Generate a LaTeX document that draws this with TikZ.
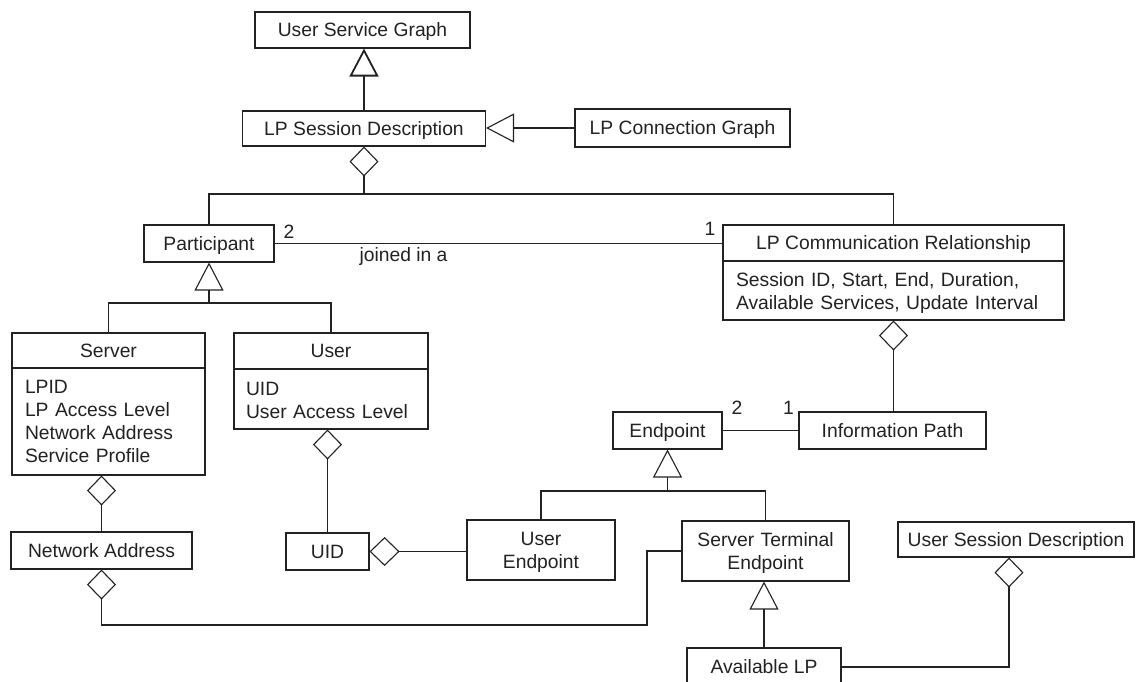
\documentclass[tikz,border=0pt]{standalone}
\usepackage{fontspec}
\setmainfont{Liberation Sans}
\usetikzlibrary{arrows.meta,calc}
\definecolor{ink}{HTML}{222222}
\begin{document}
\begin{tikzpicture}[x=1pt,y=-1pt,color=ink,line width=1.1pt,
  every node/.style={font=\fontsize{19.3}{23.3}\selectfont},
  box/.style={draw=ink,rectangle,inner sep=0pt,text height=13.8pt,text depth=0pt},
  sz/.style 2 args={minimum width=#1pt,minimum height=#2pt},
  twoline/.style={align=center,text width=#1pt,text height=25pt,text depth=35pt},
  gen/.style={-{Triangle[open,width=29pt,length=28pt]}},
  agg/.style={{Diamond[open,width=29pt,length=30pt]}-},
  mult/.style={inner sep=0pt,anchor=base}]
\useasboundingbox (0,0) rectangle (1136,682);
\fill[white] (0,0) rectangle (1136,682);

% ---- classes ----
\node[box,sz={215}{36}] (usg) at (362.5,30) {User Service Graph};
\node[box,sz={243}{35}] (lpsd) at (364,128.5) {LP Session Description};
\node[box,sz={215}{38}] (lpcg) at (682.5,128) {LP Connection Graph};
\node[box,sz={130}{37}] (part) at (209,243.5) {Participant};

\node[box,sz={341}{36}] (lpcrh) at (893.5,243) {LP Communication Relationship};
\node[box,sz={341}{59},align=left,text width=315pt,text height=25pt,text depth=34pt]
  (lpcrb) at (893.5,290.5) {Session ID, Start, End, Duration,\\Available Services, Update Interval};

\node[box,sz={193}{35}] (srvh) at (108.5,350.5) {Server};
\node[box,sz={193}{107},align=left,text width=167pt,text height=25pt,text depth=82pt]
  (srvb) at (108.5,421.5) {LPID\\LP Access Level\\Network Address\\Service Profile};

\node[box,sz={194}{36}] (usrh) at (331,351) {User};
\node[box,sz={194}{60},align=left,text width=170pt,text height=26pt,text depth=34pt]
  (usrb) at (331,399) {UID\\User Access Level};

\node[box,sz={181}{37}] (na) at (101.5,550.5) {Network Address};
\node[box,sz={83}{37}] (uid) at (327.5,551.5) {UID};
\node[box,sz={148}{60},twoline=140] (uep) at (541,550) {User\\Endpoint};
\node[box,sz={109}{37}] (ep) at (667.5,430.5) {Endpoint};
\node[box,sz={187}{37}] (ip) at (892.5,430.5) {Information Path};
\node[box,sz={167}{60},twoline=160] (ste) at (765.5,551) {Server Terminal\\Endpoint};
\node[box,sz={154}{38}] (alp) at (764,667) {Available LP};
\node[box,sz={236}{35}] (usd) at (1016,539.5) {User Session Description};

% ---- junction points ----
\coordinate (j1) at (364,194);
\coordinate (j2) at (209,303);
\coordinate (j3) at (667.5,491);
\coordinate (k1) at (647,625);
\coordinate (k2) at ($(usd.south)+(-7,0)$);

% ---- generalisations ----
\draw[gen,line width=1.8pt] (lpsd.north) -- (lpsd.north |- usg.south);
\draw[gen] (lpcg.west) -- (lpcg.west -| lpsd.east);
\draw[gen] (j2) -- (part.south);
\draw (srvh.north) |- (j2);
\draw (usrh.north) |- (j2);
\draw[gen] (j3) -- (ep.south);
\draw (uep.north) |- (j3);
\draw (ste.north) |- (j3);
\draw[gen] (alp.north) -- (alp.north |- ste.south);

% ---- aggregations ----
\draw[agg] (lpsd.south) -- (j1);
\draw (part.north) |- (j1);
\draw (lpcrh.north) |- (j1);
\draw[agg] (lpcrb.south) -- (lpcrb.south |- ip.north);
\draw[agg] (na.north |- srvb.south) -- (na.north);
\draw[agg] (uid.north |- usrb.south) -- (uid.north);
\draw[agg] (uid.east) -- (uid.east -| uep.west);
\draw[agg] (na.south) |- (k1) |- (ste.west);
\draw[agg] (k2) |- (alp.east);

% ---- associations ----
\draw (part.east) -- (part.east -| lpcrh.west);
\draw (ep.east) -- (ip.west);

% ---- multiplicities and role text ----
\node[mult] (m1) at (289,238) {2};
\node[mult] (m2) at (710,236) {1};
\node[mult] (m3) at (403.5,261) {joined in a};
\node[mult] (m4) at (737,414) {2};
\node[mult] (m5) at (788.5,414) {1};
\end{tikzpicture}
\end{document}
